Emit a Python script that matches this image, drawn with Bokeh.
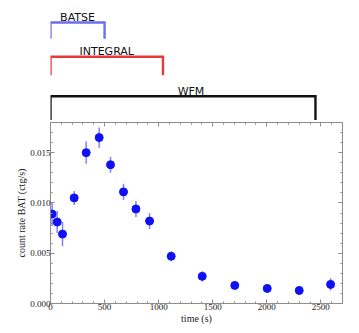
from bokeh.plotting import figure
from bokeh.layouts import column
from bokeh.models import (Range1d, LinearAxis, FixedTicker, PrintfTickFormatter,
                          ColumnDataSource, CustomJSTickFormatter)
from bokeh.core.properties import value
from bokeh.embed import file_html
from bokeh.resources import INLINE

# ---- data ----
time_s = [15, 62, 111, 219, 330, 450, 555, 675, 790, 916, 1116, 1403, 1704, 2004, 2300, 2590]
rate = [0.0089, 0.0081, 0.0069, 0.0105, 0.0150, 0.0165, 0.0138, 0.0111, 0.0094, 0.0082,
        0.0047, 0.0027, 0.0018, 0.0015, 0.0013, 0.0019]
rate_err = [0.0012, 0.0011, 0.0012, 0.0007, 0.0011, 0.0010, 0.0008, 0.0008, 0.0008, 0.0008,
            0.0005, 0.0005, 0.0004, 0.0004, 0.00045, 0.0006]

instruments = ["BATSE", "INTEGRAL", "WFM"]
window_start = [0, 0, 0]
window_end = [500, 1040, 2450]

x_ticks = [0, 500, 1000, 1500, 2000, 2500]
y_ticks = [0.000, 0.005, 0.010, 0.015]

# ---- styles / layout ----
W = 351
X_MAX = 2700
FRAME_LEFT = 50
FRAME_RIGHT_BORDER = 9
TOP_H = 120
bracket_colors = ["#6e6ef0", "#e8383c", "#111111"]
bracket_top = [22, 56.3, 95.7]
bracket_bottom = [38.3, 74.7, 120]
label_base = [16.8, 51.2, 91.0]
label_dx = [0, 0, 8]
serif = "Liberation Serif"

# ---- top panel: observation windows ----
top = figure(width=W, height=TOP_H,
             x_range=Range1d(0, X_MAX), y_range=Range1d(TOP_H, 0),
             min_border_left=FRAME_LEFT, min_border_right=FRAME_RIGHT_BORDER,
             min_border_top=0, min_border_bottom=0,
             x_axis_location=None, y_axis_location=None,
             toolbar_location=None, output_backend="svg")
top.grid.visible = False
top.outline_line_color = None

xs, ys, tx = [], [], []
for s, e, t, b in zip(window_start, window_end, bracket_top, bracket_bottom):
    xs.append([s, s, e, e])
    ys.append([b, t, t, b])
    tx.append((s + e) / 2)
top.multi_line(xs=xs, ys=ys, line_color=bracket_colors, line_width=2.4, line_join="miter")
top.text(x=tx, y=label_base, text=instruments, x_offset=label_dx,
         text_font=value("DejaVu Sans"), text_font_size="11px",
         text_align="center", text_baseline="alphabetic", text_color="#111111")

# ---- main panel ----
p = figure(width=W, height=206,
           x_range=Range1d(0, X_MAX), y_range=Range1d(0, 0.018),
           min_border_left=FRAME_LEFT, min_border_right=FRAME_RIGHT_BORDER,
           min_border_top=2, min_border_bottom=0,
           toolbar_location=None, output_backend="svg")
p.grid.visible = False
p.outline_line_color = "#8c8c8c"
p.outline_line_width = 1

src = ColumnDataSource(dict(
    t=time_s, r=rate,
    lo=[r - e for r, e in zip(rate, rate_err)],
    hi=[r + e for r, e in zip(rate, rate_err)],
))
p.segment(x0="t", y0="lo", x1="t", y1="hi", source=src, line_color="#8080ff", line_width=1.5)
p.scatter(x="t", y="r", source=src, size=8, fill_color="#1010f5", line_color="#1010f5")

x_minor = [v for v in range(0, X_MAX + 1, 100)]
y_minor = [i * 0.001 for i in range(0, 19)]

def style_axis(ax, labels=True):
    ax.axis_line_color = "#8c8c8c"
    ax.major_tick_line_color = "#8c8c8c"
    ax.minor_tick_line_color = "#8c8c8c"
    ax.major_tick_in = 4
    ax.major_tick_out = 0
    ax.minor_tick_in = 2
    ax.minor_tick_out = 0
    if labels:
        ax.major_label_text_font = serif
        ax.major_label_text_font_size = "9px"
        ax.major_label_text_color = "#222222"
        ax.major_label_standoff = 0
        ax.axis_label_text_font = serif
        ax.axis_label_text_font_size = "10px"
        ax.axis_label_text_font_style = "normal"
        ax.axis_label_text_color = "#222222"
        ax.axis_label_standoff = 0
    else:
        ax.formatter = CustomJSTickFormatter(code="return '';")
        ax.major_label_standoff = 0
        ax.axis_line_color = None

p.xaxis.ticker = FixedTicker(ticks=x_ticks, minor_ticks=x_minor)
p.yaxis.ticker = FixedTicker(ticks=y_ticks, minor_ticks=y_minor)
p.yaxis.formatter = PrintfTickFormatter(format="%.3f")
p.xaxis.axis_label = "time (s)"
p.yaxis.axis_label = "count rate BAT (ctg/s)"
style_axis(p.xaxis[0])
style_axis(p.yaxis[0])

ax_top = LinearAxis(ticker=FixedTicker(ticks=x_ticks, minor_ticks=x_minor))
ax_right = LinearAxis(ticker=FixedTicker(ticks=y_ticks, minor_ticks=y_minor))
style_axis(ax_top, labels=False)
style_axis(ax_right, labels=False)
p.add_layout(ax_top, "above")
p.add_layout(ax_right, "right")

layout = column(top, p, spacing=0)
open("out.html", "w").write(file_html(layout, INLINE))
